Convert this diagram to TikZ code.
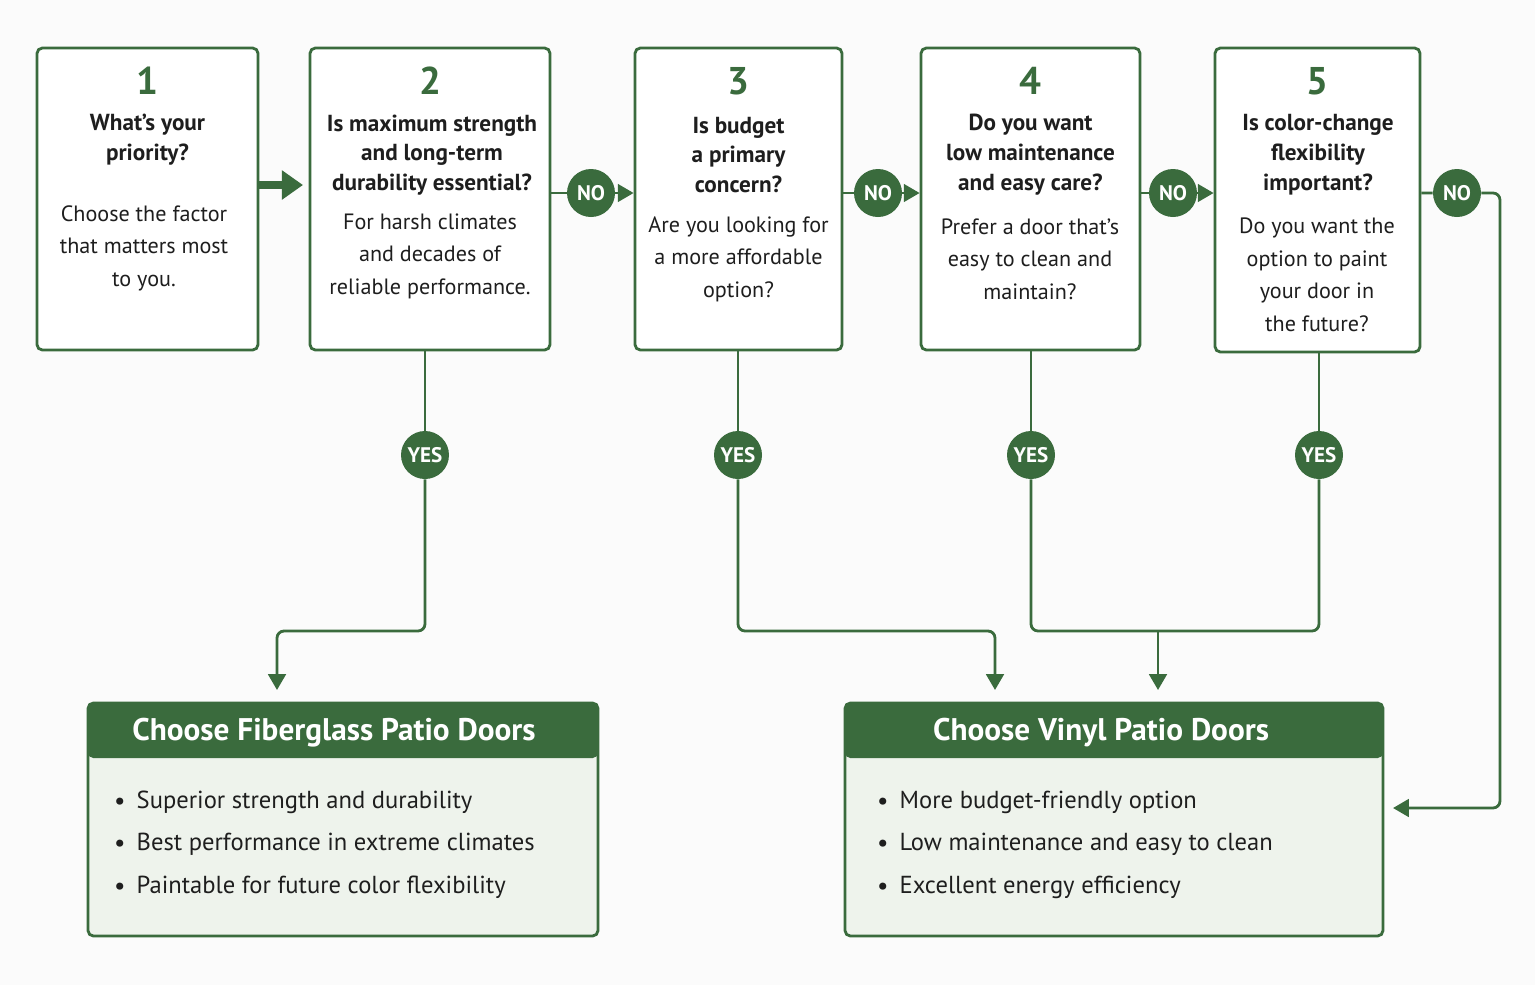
\documentclass[tikz,border=0pt]{standalone}
\usepackage{fontspec}
\setmainfont{PT Sans}
\usetikzlibrary{arrows.meta}
\definecolor{dkgreen}{HTML}{3A6B3D}
\definecolor{paleg}{HTML}{EEF3EC}
\definecolor{txt}{HTML}{1E1E1E}
\tikzset{
	qbox/.style={draw=dkgreen, line width=1.6pt, rounded corners=3pt, fill=white, minimum height=6.04cm},
	num/.style={text=dkgreen, font=\fontsize{22}{24}\selectfont\bfseries},
	quest/.style={text=txt, align=center, font=\fontsize{13.2}{17}\selectfont\bfseries},
	desc/.style={text=txt, align=center, font=\fontsize{12.6}{18.5}\selectfont},
	badge/.style={circle, fill=dkgreen, text=white, minimum size=0.96cm, inner sep=0pt, font=\fontsize{12}{12}\selectfont\bfseries},
	flow/.style={draw=dkgreen, line width=1.6pt, rounded corners=4pt},
	tip/.style={-{Triangle[length=9pt,width=10pt]}},
	bullet/.style={anchor=west, text=txt, font=\fontsize{14}{14}\selectfont}
}
\newcommand{\bul}{\raisebox{-0.1ex}{\Large•}\hspace{0.45em}}
\begin{document}
\begin{tikzpicture}[x=0.02cm, y=-0.02cm]
	\fill[white!97!gray] (0,0) rectangle (1535,985);
	
	% question boxes
	\node[qbox, minimum width=4.42cm] (b1) at (147.5,199) {};
	\node[qbox, minimum width=4.8cm] (b2) at (430,199) {};
	\node[qbox, minimum width=4.14cm] (b3) at (738.5,199) {};
	\node[qbox, minimum width=4.38cm] (b4) at (1030.5,199) {};
	\node[qbox, minimum width=4.1cm, minimum height=6.08cm] (b5) at (1317.5,200) {};
	
	\node[num] (n1) at (147.5,81) {1};
	\node[num] (n2) at (430,81) {2};
	\node[num] (n3) at (738.5,81) {3};
	\node[num] (n4) at (1030.5,81) {4};
	\node[num] (n5) at (1317.5,81) {5};
	
	\node[quest] (q1) at (147.5,140) {What’s your\\priority?};
	\node[quest] (q2) at (432,155) {Is maximum strength\\and long-term\\durability essential?};
	\node[quest] (q3) at (738.5,155) {Is budget\\a primary\\concern?};
	\node[quest] (q4) at (1030.5,155) {Do you want\\low maintenance\\and easy care?};
	\node[quest] (q5) at (1318,155) {Is color-change\\flexibility\\important?};
	
	\node[desc] (d1) at (144,248) {Choose the factor\\that matters most\\to you.};
	\node[desc] (d2) at (430,256) {For harsh climates\\and decades of\\reliable performance.};
	\node[desc] (d3) at (738.5,259) {Are you looking for\\a more affordable\\option?};
	\node[desc] (d4) at (1030,259) {Prefer a door that’s\\easy to clean and\\maintain?};
	\node[desc] (d5) at (1317,275) {Do you want the\\option to paint\\your door in\\the future?};
	
	% badges
	\node[badge] (no2) at (591,193) {NO};
	\node[badge] (no3) at (878,193) {NO};
	\node[badge] (no4) at (1173,193) {NO};
	\node[badge] (no5) at (1457,193) {NO};
	\node[badge] (yes2) at (425,455) {YES};
	\node[badge] (yes3) at (738,455) {YES};
	\node[badge] (yes4) at (1031,455) {YES};
	\node[badge] (yes5) at (1319,455) {YES};
	
	% result boxes
	\node[draw=dkgreen, line width=1.6pt, rounded corners=3pt, fill=paleg, minimum width=10.2cm, minimum height=4.66cm] (fib) at (343,819.5) {};
	\fill[dkgreen, rounded corners=3pt] (88,703) rectangle (598,758);
	\node[text=white, font=\fontsize{17.8}{18}\selectfont\bfseries] (fibh) at (334,733) {Choose Fiberglass Patio Doors};
	\node[bullet] (f1) at (108,802) {\bul Superior strength and durability};
	\node[bullet] (f2) at (108,844) {\bul Best performance in extreme climates};
	\node[bullet] (f3) at (108,887) {\bul Paintable for future color flexibility};
	
	\node[draw=dkgreen, line width=1.6pt, rounded corners=3pt, fill=paleg, minimum width=10.76cm, minimum height=4.66cm] (vin) at (1114,819.5) {};
	\fill[dkgreen, rounded corners=3pt] (845,703) rectangle (1383,758);
	\node[text=white, font=\fontsize{17.8}{18}\selectfont\bfseries] (vinh) at (1101,733) {Choose Vinyl Patio Doors};
	\node[bullet] (v1) at (871,802) {\bul More budget-friendly option};
	\node[bullet] (v2) at (871,844) {\bul Low maintenance and easy to clean};
	\node[bullet] (v3) at (871,887) {\bul Excellent energy efficiency};
	
	% connectors
	\draw[dkgreen, line width=4pt, -{Triangle[length=12pt,width=16pt]}] (b1.east |- 0,185) -- (303,185);
	\draw[flow, tip] (b2.east |- no2) -- (no2) -- (b3.west |- no2);
	\draw[flow, tip] (b3.east |- no3) -- (no3) -- (b4.west |- no3);
	\draw[flow, tip] (b4.east |- no4) -- (no4) -- (b5.west |- no4);
	\coordinate (vside) at (1393,808);
	\draw[flow, tip] (b5.east |- no5) -- (no5) -- (1500,193) -- (1500,808) -- (vside);
	
	\coordinate (fin) at (277,690);
	\coordinate (vin1) at (995,690);
	\coordinate (vin2) at (1158,690);
	\draw[flow] (b2.south -| yes2) -- (yes2);
	\draw[flow, tip] (yes2) -- (425,631) -| (fin);
	\draw[flow] (b3.south -| yes3) -- (yes3);
	\draw[flow, tip] (yes3) -- (738,631) -| (vin1);
	\draw[flow] (b4.south -| yes4) -- (yes4);
	\draw[flow] (b5.south -| yes5) -- (yes5);
	\draw[flow] (yes4) -- (1031,631) -- (1319,631) -- (yes5);
	\draw[flow, tip, rounded corners=0pt] (1158,631) -- (vin2);
\end{tikzpicture}
\end{document}
